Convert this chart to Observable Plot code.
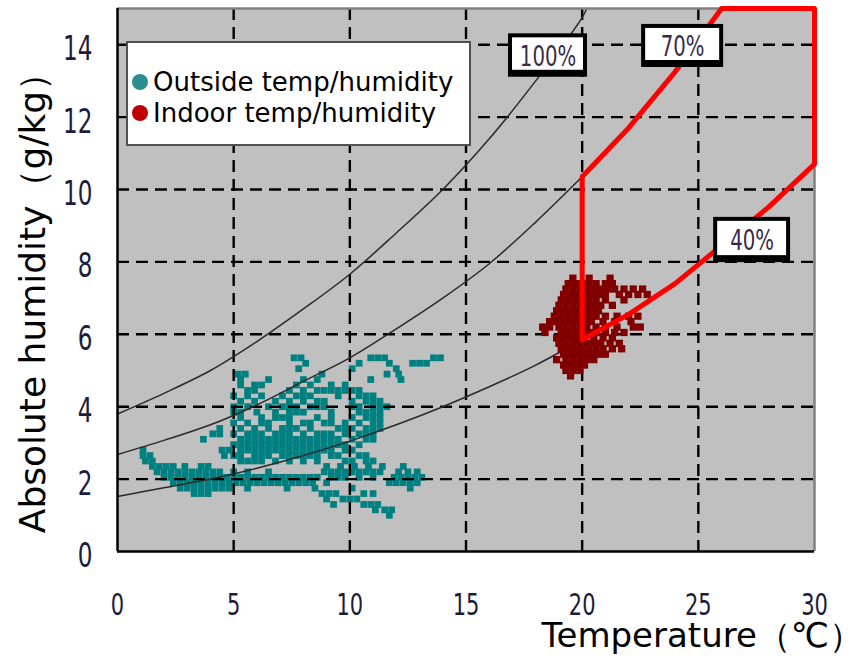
<!DOCTYPE html>
<html><head><meta charset="utf-8">
<script src="https://cdn.jsdelivr.net/npm/d3@7"></script>
<script src="https://cdn.jsdelivr.net/npm/@observablehq/plot@0.6"></script>
<style>body{margin:0;background:#fff}</style>
</head><body><div id="chart"></div>
<script>
// ---- axes ----
const xTicks = [0, 5, 10, 15, 20, 25, 30];
const yTicks = [0, 2, 4, 6, 8, 10, 12, 14];
const xGrid = [5, 10, 15, 20, 25];
const yGrid = [2, 4, 6, 8, 10, 12, 14];

// ---- relative humidity curves ----
const rh100T = [0, 2, 4, 6, 8, 10, 12, 14, 16, 18, 20, 20.2];
const rh100H = [3.8, 4.37, 5.0, 5.8, 6.7, 7.66, 8.8, 10.0, 11.4, 13.0, 14.75, 15.0];
const rh70T = [0, 2, 4, 6, 8, 10, 12, 14, 16, 18, 20];
const rh70H = [2.68, 3.07, 3.5, 4.05, 4.7, 5.35, 6.15, 7.0, 7.95, 9.1, 10.35];
const rh40T = [0, 2, 4, 6, 8, 10, 12, 14, 16, 18, 20];
const rh40H = [1.52, 1.76, 2.0, 2.3, 2.65, 3.05, 3.5, 4.0, 4.55, 5.15, 5.85];

// ---- comfort zone outline (red) ----
const zoneT = [20, 20, 22, 24, 26, 30, 30, 28, 26, 24, 22, 20];
const zoneH = [5.85, 10.35, 11.7, 13.25, 15.0, 15.0, 10.7, 9.5, 8.45, 7.4, 6.55, 5.85];

// ---- RH labels ----
const rhLabels = ["100%", "70%", "40%"];
const labelX1 = [16.83, 22.56, 25.66];
const labelX2 = [20.23, 26.09, 28.97];
const labelY1 = [13.1, 13.37, 7.98];
const labelY2 = [14.3, 14.56, 9.23];

// ---- legend ----
const seriesNames = ["Outside temp/humidity", "Indoor temp/humidity"];
const seriesColors = ["#2f8d91", "#c00000"];

// ---- outside temp/humidity points: [humidity, [temperatures...]] ----
const outsideRows = [
 [1.0, [11.7]],
 [1.15, [11.1, 11.5, 11.8]],
 [1.3, [9.3, 10.6, 10.9, 11.2]],
 [1.45, [9.0, 9.7, 10.0, 10.3]],
 [1.6, [3.3, 3.6, 3.9, 8.8, 9.1, 9.4, 10.6, 11.0]],
 [1.75, [2.7, 3.0, 3.3, 3.6, 3.9, 4.2, 4.5, 4.8, 5.6, 7.3, 8.5, 10.1, 12.6]],
 [1.9, [2.4, 2.7, 3.0, 3.3, 3.6, 3.9, 4.2, 4.5, 4.8, 5.1, 5.4, 5.7, 6.0, 6.3, 6.6, 6.9, 7.2, 7.5, 7.8, 8.1, 8.4, 9.0, 11.7, 12.0, 12.3, 12.6, 12.9]],
 [2.05, [2.0, 2.3, 2.6, 2.9, 3.2, 3.5, 3.8, 4.1, 4.4, 4.7, 5.0, 5.3, 5.6, 5.9, 6.2, 6.5, 6.8, 7.1, 7.4, 7.7, 8.0, 8.3, 8.6, 9.2, 9.5, 9.8, 10.4, 11.0, 11.9, 12.2, 12.5, 12.8, 13.1]],
 [2.2, [1.7, 2.0, 2.3, 2.6, 2.9, 3.2, 3.5, 3.8, 4.1, 4.4, 5.0, 5.6, 6.5, 8.9, 9.2, 9.5, 9.8, 10.1, 10.4, 10.7, 11.0, 11.3, 12.1, 12.5, 12.9]],
 [2.35, [1.5, 1.8, 2.1, 2.4, 2.9, 3.6, 3.9, 9.0, 9.6, 10.2, 10.8, 11.4, 12.3]],
 [2.5, [1.2, 1.5, 5.3, 5.6, 5.9, 6.2, 6.8, 7.4, 8.0, 8.6, 9.8, 10.1, 10.7, 11.0]],
 [2.65, [1.1, 1.4, 4.6, 5.0, 5.3, 5.9, 6.2, 6.5, 7.1, 7.4, 7.7, 8.0, 8.3, 8.6, 9.2, 9.5, 10.4, 10.7]],
 [2.8, [1.1, 4.5, 4.8, 5.3, 5.6, 5.9, 6.2, 6.5, 6.8, 7.1, 7.4, 7.7, 8.0, 8.3, 8.6, 8.9, 9.2, 9.8, 10.1]],
 [2.95, [5.0, 5.3, 5.6, 5.9, 6.2, 6.5, 6.8, 7.1, 7.4, 7.7, 8.0, 8.3, 8.6, 8.9, 9.2, 9.5, 9.8, 10.4]],
 [3.1, [3.7, 5.3, 5.6, 5.9, 6.2, 6.5, 6.8, 7.1, 7.4, 7.7, 8.0, 8.3, 8.6, 8.9, 9.2, 9.5, 10.1, 10.7, 11.0]],
 [3.25, [4.1, 4.4, 5.0, 5.6, 5.9, 6.2, 6.8, 7.1, 7.4, 8.0, 8.6, 8.9, 9.2, 9.8, 10.4, 10.7, 11.0]],
 [3.4, [4.4, 5.3, 5.9, 6.5, 7.1, 7.4, 7.7, 8.3, 9.5, 9.8, 10.1, 10.7, 11.0, 11.3]],
 [3.55, [5.0, 5.6, 6.2, 6.5, 7.4, 8.0, 8.3, 8.9, 9.2, 9.8, 10.4, 11.0, 11.3]],
 [3.7, [5.3, 6.2, 6.8, 7.1, 7.4, 8.6, 9.2, 10.1, 10.7, 11.0, 11.3]],
 [3.85, [5.0, 5.3, 6.0, 6.8, 7.4, 7.7, 8.0, 9.2, 10.4, 10.7, 11.0, 11.3]],
 [4.0, [5.0, 5.6, 6.5, 7.1, 7.4, 7.7, 8.3, 8.6, 8.9, 10.1, 10.4, 11.0, 11.3, 11.6]],
 [4.15, [5.3, 5.9, 6.8, 7.4, 8.0, 8.6, 8.9, 10.1, 10.7, 11.0, 11.3]],
 [4.3, [5.0, 5.6, 6.2, 7.1, 7.7, 8.0, 8.3, 9.5, 10.4, 10.7, 11.0]],
 [4.45, [5.6, 5.9, 7.4, 8.0, 8.6, 8.9, 9.2, 9.5, 9.8, 10.1, 10.4]],
 [4.6, [5.3, 5.9, 6.2, 7.7, 8.3, 9.2, 9.8]],
 [4.75, [5.3, 6.5, 8.0, 8.6, 10.9, 12.2]],
 [4.9, [5.2, 5.5, 8.8, 11.6, 12.1]],
 [5.05, [7.8, 10.1, 12.0]],
 [5.2, [8.1, 10.4, 11.7, 12.7, 13.0, 13.3]],
 [5.35, [7.6, 7.9, 10.9, 11.2, 11.5, 13.6, 13.9]]
];

// ---- indoor temp/humidity points: [humidity, [temperatures...]] ----
const indoorRows = [
 [7.55, [19.6, 20.3, 21.2]],
 [7.4, [19.4, 19.7, 20.0, 20.3, 20.6, 21.0, 21.3]],
 [7.25, [19.3, 19.6, 19.9, 20.2, 20.5, 20.8, 21.1, 21.4, 21.8, 22.2, 22.6]],
 [7.1, [19.2, 19.5, 19.8, 20.1, 20.4, 20.7, 21.0, 21.6, 22.0, 22.4, 22.8]],
 [6.95, [19.1, 19.4, 19.7, 20.0, 20.3, 20.6, 21.0, 21.8]],
 [6.8, [19.0, 19.3, 19.6, 19.9, 20.2, 20.5, 20.8, 21.3]],
 [6.65, [18.9, 19.2, 19.5, 19.8, 20.1, 20.4, 20.7]],
 [6.5, [18.8, 19.1, 19.4, 19.7, 20.0, 20.3, 20.6, 21.0, 21.5, 22.0, 22.4]],
 [6.35, [18.6, 18.9, 19.2, 19.5, 19.8, 20.1, 20.4, 20.9, 21.4, 22.1]],
 [6.2, [18.3, 18.6, 19.0, 19.3, 19.6, 19.9, 20.2, 20.6, 21.0, 21.5, 22.2, 22.5]],
 [6.05, [18.4, 19.1, 19.4, 19.7, 20.0, 20.3, 20.6, 21.0, 21.4, 21.8]],
 [5.9, [18.9, 19.2, 19.5, 19.8, 20.1, 20.5, 20.9, 21.3]],
 [5.75, [19.0, 19.3, 19.6, 19.9, 20.2, 20.5, 20.8, 21.2, 21.6]],
 [5.6, [19.1, 19.4, 19.7, 20.0, 20.3, 20.6, 20.9, 21.3, 21.7]],
 [5.45, [19.2, 19.5, 19.8, 20.1, 20.4, 20.7, 21.0]],
 [5.3, [18.9, 19.3, 19.6, 19.9, 20.2, 20.5]],
 [5.15, [19.2, 19.5, 19.8, 20.1]],
 [5.0, [19.3, 19.6, 19.9]],
 [4.85, [19.5]]
];

const outside = outsideRows.flatMap(([h, ts]) => ts.map(t => ({t, h})));
const indoor = indoorRows.flatMap(([h, ts]) => ts.map(t => ({t, h})));
const toPts = (T, H) => T.map((t, i) => ({t, h: H[i]}));
const curves = [
  ...toPts(rh100T, rh100H).map(d => ({...d, k: "100"})),
  ...toPts(rh70T, rh70H).map(d => ({...d, k: "70"})),
  ...toPts(rh40T, rh40H).map(d => ({...d, k: "40"}))
];
const zone = toPts(zoneT, zoneH);
const labels = rhLabels.map((s, i) => ({s, x1: labelX1[i], x2: labelX2[i], y1: labelY1[i], y2: labelY2[i]}));

const tickFont = "'DejaVu Sans', sans-serif";
const mainFont = "'DejaVu Sans', Verdana, sans-serif";

const plot = Plot.plot({
  width: 865,
  height: 658,
  marginLeft: 117,
  marginRight: 51,
  marginTop: 8,
  marginBottom: 107,
  style: {fontFamily: tickFont, background: "#fff", overflow: "visible"},
  x: {domain: [0, 30], ticks: xTicks},
  y: {domain: [0, 15], ticks: yTicks},
  marks: [
    Plot.frame({fill: "#c0c0c0", stroke: "none"}),
    Plot.dot(outside, {x: "t", y: "h", symbol: "square", r: 3.8, fill: "#008080", stroke: "none"}),
    Plot.gridX(xGrid, {stroke: "#000", strokeOpacity: 1, strokeWidth: 2.4, strokeDasharray: "12,7"}),
    Plot.gridY(yGrid, {stroke: "#000", strokeOpacity: 1, strokeWidth: 2.4, strokeDasharray: "12,7"}),
    Plot.line(curves, {x: "t", y: "h", z: "k", stroke: "#2a2a2a", strokeWidth: 1.5, curve: "catmull-rom"}),
    Plot.dot(indoor, {x: "t", y: "h", symbol: "square", r: 4.1, fill: "#800000", stroke: "none"}),
    Plot.ruleY([15], {stroke: "#808080", strokeWidth: 2.5}),
    Plot.ruleX([30], {stroke: "#808080", strokeWidth: 2.5}),
    Plot.line(zone, {x: "t", y: "h", stroke: "#ff0000", strokeWidth: 5, strokeLinejoin: "round"}),
    Plot.ruleX([0], {stroke: "#000", strokeWidth: 2.5}),
    Plot.ruleY([0], {stroke: "#000", strokeWidth: 2.5}),
    Plot.rect(labels, {x1: "x1", x2: "x2", y1: "y1", y2: "y2", fill: "#000"}),
    Plot.rect(labels, {x1: "x1", x2: "x2", y1: "y1", y2: "y2", fill: "#fff", insetLeft: 4, insetRight: 4, insetTop: 4, insetBottom: 7}),
    Plot.text(labels, {x: d => (d.x1 + d.x2) / 2, y: d => (d.y1 + d.y2) / 2, text: "s", fontSize: 29, fill: "#3a2a4a", dy: 1, fontFamily: tickFont}),
    Plot.axisX({ticks: xTicks, tickSize: 0, tickPadding: 42, fontSize: 30, fill: "#1c1c3a", label: null}),
    Plot.axisY({ticks: yTicks, tickSize: 0, tickPadding: 25, fontSize: 33, fill: "#1c1c3a", dy: 5, label: null}),
    Plot.text(["Absolute humidity（g/kg）"], {frameAnchor: "left", dx: -84, dy: 14, rotate: -90, textAnchor: "middle", fontSize: 36, fontFamily: mainFont, fill: "#000"}),
    Plot.text(["Temperature（℃）"], {frameAnchor: "bottom-right", dx: -273, dy: 95, textAnchor: "start", lineAnchor: "bottom", fontSize: 34, fontFamily: mainFont, fill: "#000"})
  ]
});

const svg = d3.select(plot);
// narrow (condensed) digits like the original tick labels
svg.selectAll('g[aria-label="x-axis tick label"] text, g[aria-label="y-axis tick label"] text')
  .attr("transform", function () { return (this.getAttribute("transform") || "") + " scale(0.7,1)"; });
svg.selectAll('g[aria-label="text"] text')
  .filter(function () { return /%$/.test(this.textContent); })
  .attr("transform", function () { return (this.getAttribute("transform") || "") + " scale(0.68,1)"; });

// legend box drawn inside the plot area
const lg = svg.append("g");
lg.append("rect").attr("x", 127).attr("y", 42).attr("width", 343).attr("height", 103)
  .attr("fill", "#fff").attr("stroke", "#505050").attr("stroke-width", 2);
seriesNames.forEach((name, i) => {
  const cy = 82 + i * 31;
  lg.append("circle").attr("cx", 140).attr("cy", cy).attr("r", 8).attr("fill", seriesColors[i]);
  lg.append("text").attr("x", 153).attr("y", cy + 9).attr("text-anchor", "start")
    .attr("font-family", mainFont).attr("font-size", 26).attr("fill", "#000").text(name);
});

document.getElementById("chart").appendChild(plot);
</script>
</body></html>
